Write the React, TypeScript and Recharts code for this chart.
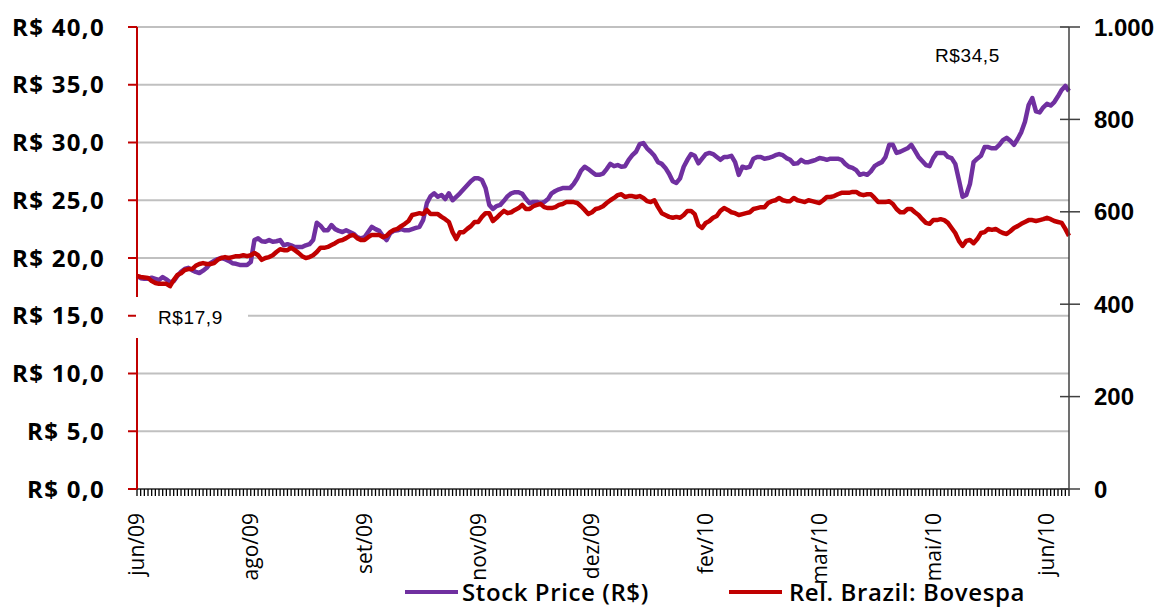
import { LineChart, Line, XAxis, YAxis, CartesianGrid, Legend } from "recharts";

const stockPrice = [
  18.45, 18.25, 18.2, 18.2, 18.3, 18.2, 18.1, 18.35, 18.15, 17.9,
  18.0, 18.45, 18.8, 19.05, 19.15, 18.95, 18.8, 18.7, 18.9, 19.15,
  19.55, 19.75, 19.9, 20.0, 19.9, 19.75, 19.55, 19.5, 19.4, 19.4,
  19.4, 19.65, 21.55, 21.7, 21.45, 21.4, 21.55, 21.4, 21.45, 21.55,
  21.1, 21.2, 21.1, 20.95, 20.95, 20.95, 21.1, 21.2, 21.55, 23.05,
  22.8, 22.4, 22.4, 22.85, 22.5, 22.35, 22.25, 22.4, 22.25, 22.1,
  21.8, 21.7, 21.8, 22.25, 22.7, 22.5, 22.35, 21.9, 21.55, 22.15,
  22.35, 22.4, 22.5, 22.4, 22.4, 22.5, 22.6, 22.7, 23.3, 24.75,
  25.35, 25.6, 25.3, 25.45, 25.1, 25.6, 25.0, 25.3, 25.6, 25.95,
  26.3, 26.65, 26.9, 26.9, 26.75, 26.05, 24.6, 24.25, 24.5, 24.6,
  24.95, 25.35, 25.6, 25.7, 25.7, 25.55, 25.1, 24.75, 24.85, 24.85,
  24.75, 24.85, 25.1, 25.6, 25.8, 25.95, 26.05, 26.05, 26.05, 26.4,
  26.9, 27.55, 27.9, 27.7, 27.45, 27.2, 27.2, 27.3, 27.7, 28.15,
  27.95, 28.05, 27.9, 27.95, 28.5, 28.9, 29.2, 29.85, 29.95, 29.5,
  29.2, 28.85, 28.3, 28.15, 27.8, 27.3, 26.65, 26.5, 26.9, 27.9,
  28.5, 29.0, 28.85, 28.2, 28.6, 29.0, 29.1, 29.0, 28.75, 28.5,
  28.75, 28.75, 28.85, 28.3, 27.2, 27.9, 27.8, 27.9, 28.6, 28.75,
  28.75, 28.6, 28.65, 28.75, 28.9, 29.0, 28.9, 28.65, 28.5, 28.15,
  28.2, 28.5, 28.3, 28.3, 28.4, 28.5, 28.65, 28.6, 28.5, 28.6,
  28.6, 28.6, 28.5, 28.15, 27.9, 27.8, 27.6, 27.2, 27.3, 27.2,
  27.5, 27.95, 28.15, 28.3, 28.75, 29.8, 29.8, 29.1, 29.2, 29.35,
  29.5, 29.8, 29.3, 28.75, 28.4, 28.05, 27.95, 28.65, 29.1, 29.1,
  29.1, 28.75, 28.65, 28.15, 26.75, 25.3, 25.45, 26.4, 28.3, 28.6,
  28.85, 29.6, 29.6, 29.5, 29.5, 29.8, 30.2, 30.4, 30.15, 29.8,
  30.3, 30.9, 31.8, 33.25, 33.85, 32.7, 32.6, 33.05, 33.35, 33.2,
  33.5, 34.0, 34.55, 34.9, 34.45,
];

const bovespa = [
  461, 459, 458, 457, 450, 446, 444, 444, 444, 439,
  452, 463, 467, 474, 476, 476, 483, 487, 489, 487,
  487, 489, 496, 500, 502, 500, 502, 504, 504, 506,
  504, 506, 511, 506, 496, 500, 502, 506, 513, 519,
  517, 517, 522, 517, 511, 504, 500, 502, 506, 513,
  522, 522, 524, 528, 532, 537, 539, 543, 548, 550,
  543, 539, 539, 545, 550, 550, 550, 545, 548, 556,
  561, 563, 569, 574, 580, 593, 595, 597, 595, 604,
  595, 595, 595, 589, 584, 578, 556, 541, 556, 556,
  563, 569, 578, 578, 589, 597, 597, 580, 587, 595,
  602, 597, 599, 604, 608, 615, 606, 606, 612, 615,
  617, 610, 608, 608, 610, 615, 617, 621, 621, 621,
  619, 612, 604, 595, 599, 606, 608, 612, 619, 625,
  630, 636, 638, 632, 634, 634, 632, 634, 630, 623,
  621, 625, 610, 597, 593, 589, 587, 589, 587, 593,
  602, 602, 595, 571, 565, 576, 580, 587, 591, 602,
  608, 604, 599, 597, 593, 595, 597, 599, 606, 608,
  610, 610, 619, 623, 625, 630, 625, 623, 623, 630,
  625, 623, 621, 625, 623, 621, 619, 625, 632, 632,
  634, 638, 641, 641, 641, 643, 643, 638, 636, 638,
  638, 630, 621, 621, 621, 623, 617, 606, 599, 599,
  606, 606, 599, 593, 584, 576, 574, 582, 582, 584,
  582, 576, 565, 554, 537, 526, 537, 539, 532, 541,
  554, 556, 563, 561, 563, 558, 554, 552, 558, 565,
  569, 574, 578, 582, 582, 580, 582, 584, 587, 584,
  580, 578, 576, 563, 548,
];

// month labels and the trading-day index they sit on
const monthLabels = ["jun/09", "ago/09", "set/09", "nov/09", "dez/09", "fev/10", "mar/10", "mai/10", "jun/10"];
const monthIndex = [0, 31, 62, 93, 124, 155, 186, 217, 248];

const leftTicks = [0, 5, 10, 15, 20, 25, 30, 35, 40];
const rightTicks = [0, 200, 400, 600, 800, 1000];

const seriesOrder = ["stock", "bov"];

const data = stockPrice.map((v, i) => ({ day: i, stock: v, bov: bovespa[i] }));

const PURPLE = "#7030a0";
const RED = "#c00000";

const XTick = (props: any) => {
  const { x, y, payload } = props;
  const k = monthIndex.indexOf(payload.value);
  if (k < 0) return <g />;
  return (
    <text
      x={x}
      y={y}
      dy="0.35em"
      textAnchor="end"
      transform={`rotate(-90, ${x}, ${y})`}
      fill="#000"
      style={{ fontFamily: "Open Sans", fontSize: 21 }}
    >
      {monthLabels[k]}
    </text>
  );
};

const LeftTick = (props: any) => {
  const { x, y, payload } = props;
  return (
    <text
      x={x}
      y={y}
      dy="0.36em"
      textAnchor="end"
      fill="#000"
      style={{ fontFamily: "Open Sans", fontSize: 24, fontWeight: 700, letterSpacing: 1.3 }}
    >
      {`R$ ${payload.value.toFixed(1).replace(".", ",")}`}
    </text>
  );
};

const RightTick = (props: any) => {
  const { x, y, payload } = props;
  const label = payload.value === 1000 ? "1.000" : String(payload.value);
  return (
    <g>
      <line x1={x - 9} x2={x + 11} y1={y} y2={y} stroke="#404040" strokeWidth={1.5} />
      <text
        x={x + 25}
        y={y}
        dy="0.36em"
        textAnchor="start"
        fill="#000"
        style={{ fontFamily: "Liberation Sans", fontSize: 24, fontWeight: 700 }}
      >
        {label}
      </text>
    </g>
  );
};

const LegendContent = (props: any) => {
  const items = [...(props.payload || [])].sort(
    (a: any, b: any) => seriesOrder.indexOf(a.dataKey) - seriesOrder.indexOf(b.dataKey)
  );
  return (
    <div style={{ display: "flex", alignItems: "center", paddingLeft: 405, height: 24 }}>
      {items.map((item: any, i: number) => (
        <div key={i} style={{ display: "flex", alignItems: "center", marginRight: i === 0 ? 80 : 0 }}>
          <div style={{ width: 53, height: 4, background: item.color, marginRight: i === 0 ? 4 : 7 }} />
          <span
            style={{
              fontFamily: "Open Sans",
              fontSize: 24,
              fontWeight: 600,
              lineHeight: "24px",
              letterSpacing: 0.6,
              color: "#000",
              whiteSpace: "nowrap",
            }}
          >
            {item.value}
          </span>
        </div>
      ))}
    </div>
  );
};

const noteStyle: React.CSSProperties = {
  position: "absolute",
  fontFamily: "Liberation Sans",
  fontSize: 19,
  lineHeight: "19px",
  letterSpacing: 0.6,
  color: "#000",
  background: "#fff",
};

export default function App() {
  return (
    <div style={{ position: "absolute", left: 0, top: 0, width: 1159, height: 609, background: "#fff", overflow: "hidden" }}>
      <LineChart width={1159} height={609} data={data} margin={{ top: 27, right: 0, left: 0, bottom: 0 }}>
        <CartesianGrid yAxisId="left" vertical={false} stroke="#c0c0c0" strokeWidth={2} />
        <XAxis
          dataKey="day"
          type="category"
          interval={0}
          height={120}
          tickSize={7}
          tickMargin={17}
          tickLine={{ stroke: "#000", strokeWidth: 1.3 }}
          axisLine={{ stroke: "#404040", strokeWidth: 1.5 }}
          tick={XTick}
        />
        <YAxis
          yAxisId="left"
          orientation="left"
          width={137}
          domain={[0, 40]}
          ticks={leftTicks}
          interval={0}
          tickSize={9}
          tickMargin={23}
          axisLine={{ stroke: RED, strokeWidth: 2 }}
          tickLine={{ stroke: RED, strokeWidth: 2 }}
          tick={LeftTick}
        />
        <YAxis
          yAxisId="right"
          orientation="right"
          width={90}
          domain={[0, 1000]}
          ticks={rightTicks}
          interval={0}
          tickSize={0}
          tickMargin={0}
          axisLine={{ stroke: "#404040", strokeWidth: 1.5 }}
          tickLine={false}
          tick={RightTick}
        />
        <Legend
          layout="horizontal"
          verticalAlign="middle"
          align="center"
          wrapperStyle={{ top: 580, left: 0, width: 1159 }}
          content={LegendContent}
        />
        <Line
          yAxisId="left"
          type="linear"
          dataKey="stock"
          name="Stock Price (R$)"
          stroke={PURPLE}
          strokeWidth={4.5}
          strokeLinejoin="round"
          dot={false}
          isAnimationActive={false}
        />
        <Line
          yAxisId="right"
          type="linear"
          dataKey="bov"
          name="Rel. Brazil: Bovespa"
          stroke={RED}
          strokeWidth={4.5}
          strokeLinejoin="round"
          dot={false}
          isAnimationActive={false}
        />
      </LineChart>
      <div style={{ ...noteStyle, left: 935, top: 46, background: "transparent" }}>R$34,5</div>
      <div style={{ ...noteStyle, left: 136, top: 297, width: 112, height: 41, paddingLeft: 22, paddingTop: 11, boxSizing: "border-box" }}>
        R$17,9
      </div>
    </div>
  );
}
